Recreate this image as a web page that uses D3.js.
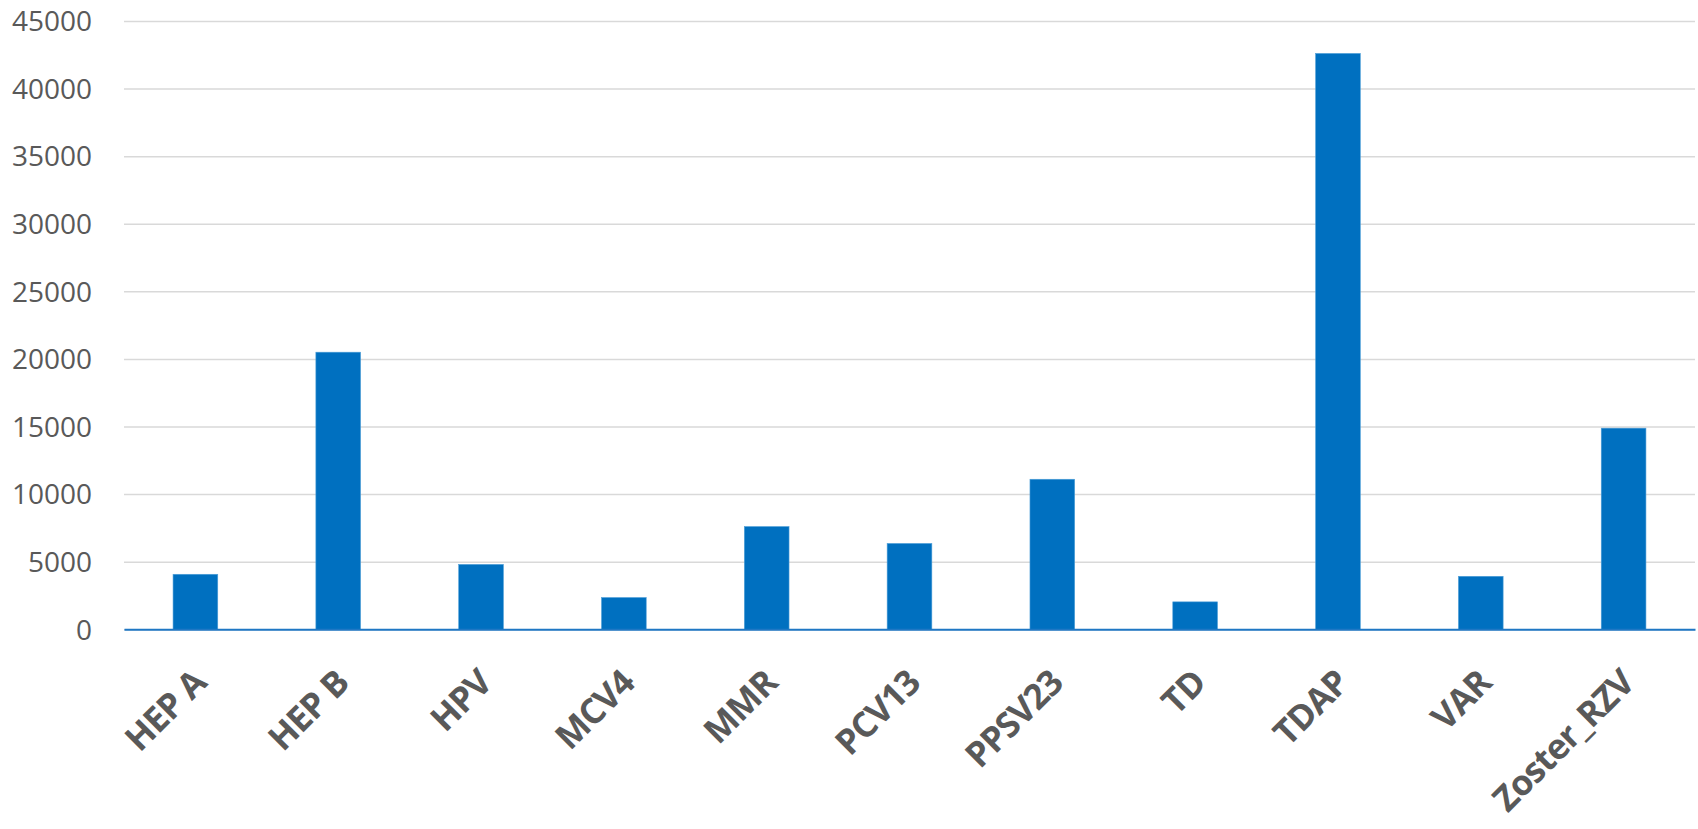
<!DOCTYPE html>
<html>
<head>
<meta charset="utf-8">
<script src="https://cdn.jsdelivr.net/npm/d3@7"></script>
<style>
  html, body { margin: 0; padding: 0; background: #fff; }
  svg { display: block; }
</style>
</head>
<body>
<svg id="chart" width="1698" height="829"></svg>
<script>
const categories = ["HEP A", "HEP B", "HPV", "MCV4", "MMR", "PCV13", "PPSV23", "TD", "TDAP", "VAR", "Zoster_RZV"];
const values = [4070, 20500, 4800, 2350, 7600, 6350, 11100, 2030, 42600, 3920, 14880];
const yTicks = [0, 5000, 10000, 15000, 20000, 25000, 30000, 35000, 40000, 45000];

const svg = d3.select("#chart");
const margin = { left: 124, right: 3, top: 21, bottom: 200 };
const W = 1698, H = 829;
const y0 = 629.3;

const x = d3.scaleBand()
  .domain(categories)
  .range([margin.left, W - margin.right])
  .paddingInner(0.687)
  .paddingOuter(0.3435);

const y = d3.scaleLinear()
  .domain([0, 45000])
  .range([y0, margin.top]);

// gridlines
const grid = svg.append("g")
  .attr("transform", `translate(${margin.left},0)`)
  .call(d3.axisLeft(y).tickValues(yTicks).tickSize(-(W - margin.right - margin.left)).tickFormat(""));
grid.select(".domain").remove();
grid.selectAll("line").attr("stroke", "#d9d9d9").attr("stroke-width", 1.5);

// y labels
const yAxis = svg.append("g")
  .attr("transform", `translate(${margin.left - 29},0)`)
  .call(d3.axisLeft(y).tickValues(yTicks).tickSize(0).tickFormat(d3.format("d")));
yAxis.select(".domain").remove();
yAxis.selectAll("text")
  .attr("fill", "#595959")
  .attr("font-family", "'Open Sans', sans-serif")
  .attr("font-size", 28)
  .attr("dy", "0.35em");

// bars
svg.append("g").selectAll("rect")
  .data(values)
  .join("rect")
  .attr("x", (d, i) => x(categories[i]))
  .attr("width", x.bandwidth())
  .attr("y", d => y(d))
  .attr("height", d => y(0) - y(d))
  .attr("fill", "#0070c0")
  .attr("stroke", "#4f9fd8")
  .attr("stroke-width", 0.6);

// x axis
const xAxis = svg.append("g")
  .attr("transform", `translate(0,${y0})`)
  .call(d3.axisBottom(x).tickSize(0).tickPadding(0));
xAxis.select(".domain").attr("stroke", "#1f77c4").attr("stroke-width", 2);
xAxis.selectAll("text")
  .attr("fill", "#595959")
  .attr("font-family", "'Open Sans', sans-serif")
  .attr("font-weight", "bold")
  .attr("font-size", 35)
  .attr("letter-spacing", "-1px")
  .attr("text-anchor", "end")
  .attr("dy", "0.35em")
  .attr("transform", "translate(4,47) rotate(-45)");
</script>
</body>
</html>
